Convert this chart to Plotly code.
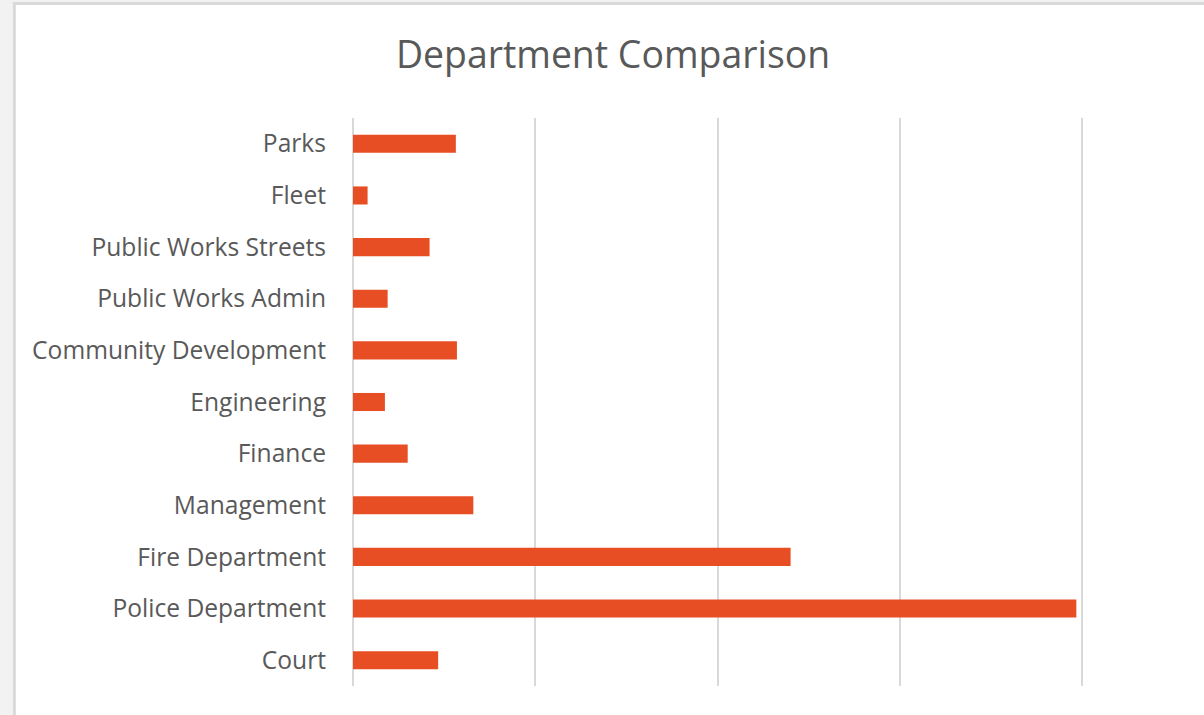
import plotly.graph_objects as go

categories = ["Parks", "Fleet", "Public Works Streets", "Public Works Admin",
              "Community Development", "Engineering", "Finance", "Management",
              "Fire Department", "Police Department", "Court"]
values = [0.564, 0.08, 0.42, 0.19, 0.57, 0.175, 0.30, 0.66, 2.40, 3.967, 0.467]

W, H = 1204, 715
XMAX = 4.02
unit = (1082 - 353) / 4.0
L, T, B = 353, 118, 715 - 686
pw = unit * XMAX
R = W - L - pw
ph = H - T - B

def px(x):
    return (x - L) / pw

def py(y):
    return (H - B - y) / ph

fig = go.Figure(go.Bar(
    x=values, y=categories, orientation="h",
    marker=dict(color="#E84E24", line=dict(width=0)),
    hoverinfo="x+y",
))

shapes = [
    dict(type="rect", xref="paper", yref="paper", x0=px(0), x1=px(13), y0=py(H), y1=py(0),
         fillcolor="#f2f2f2", line=dict(width=0), layer="below"),
    dict(type="rect", xref="paper", yref="paper", x0=px(0), x1=px(W), y0=py(2), y1=py(0),
         fillcolor="#f2f2f2", line=dict(width=0), layer="below"),
    dict(type="rect", xref="paper", yref="paper", x0=px(13), x1=px(16), y0=py(H), y1=py(2),
         fillcolor="#d9d9d9", line=dict(width=0), layer="below"),
    dict(type="rect", xref="paper", yref="paper", x0=px(13), x1=px(W), y0=py(5), y1=py(2),
         fillcolor="#d9d9d9", line=dict(width=0), layer="below"),
]

fig.update_layout(
    width=W, height=H,
    margin=dict(l=L, r=R, t=T, b=B, autoexpand=False),
    paper_bgcolor="white", plot_bgcolor="white",
    title=dict(text="Department Comparison", x=613 / W, xref="container", xanchor="center",
               y=1 - 55 / H, yanchor="middle", yref="container",
               font=dict(family="Open Sans, sans-serif", size=37.4, color="#595959")),
    font=dict(family="Open Sans, sans-serif", size=24.6, color="#595959"),
    bargap=0.65,
    showlegend=False,
    shapes=shapes,
    xaxis=dict(range=[0, XMAX], dtick=1, showticklabels=False, showgrid=True,
               gridcolor="#d9d9d9", gridwidth=2, zeroline=True, zerolinecolor="#d9d9d9",
               zerolinewidth=2, showline=False, ticks="", fixedrange=True),
    yaxis=dict(autorange="reversed", showgrid=False, zeroline=False, showline=False,
               ticks="", ticklabelstandoff=26, fixedrange=True),
)

fig.write_html("out.html", config={"displayModeBar": False},
               post_script="document.body.style.margin='0';")
